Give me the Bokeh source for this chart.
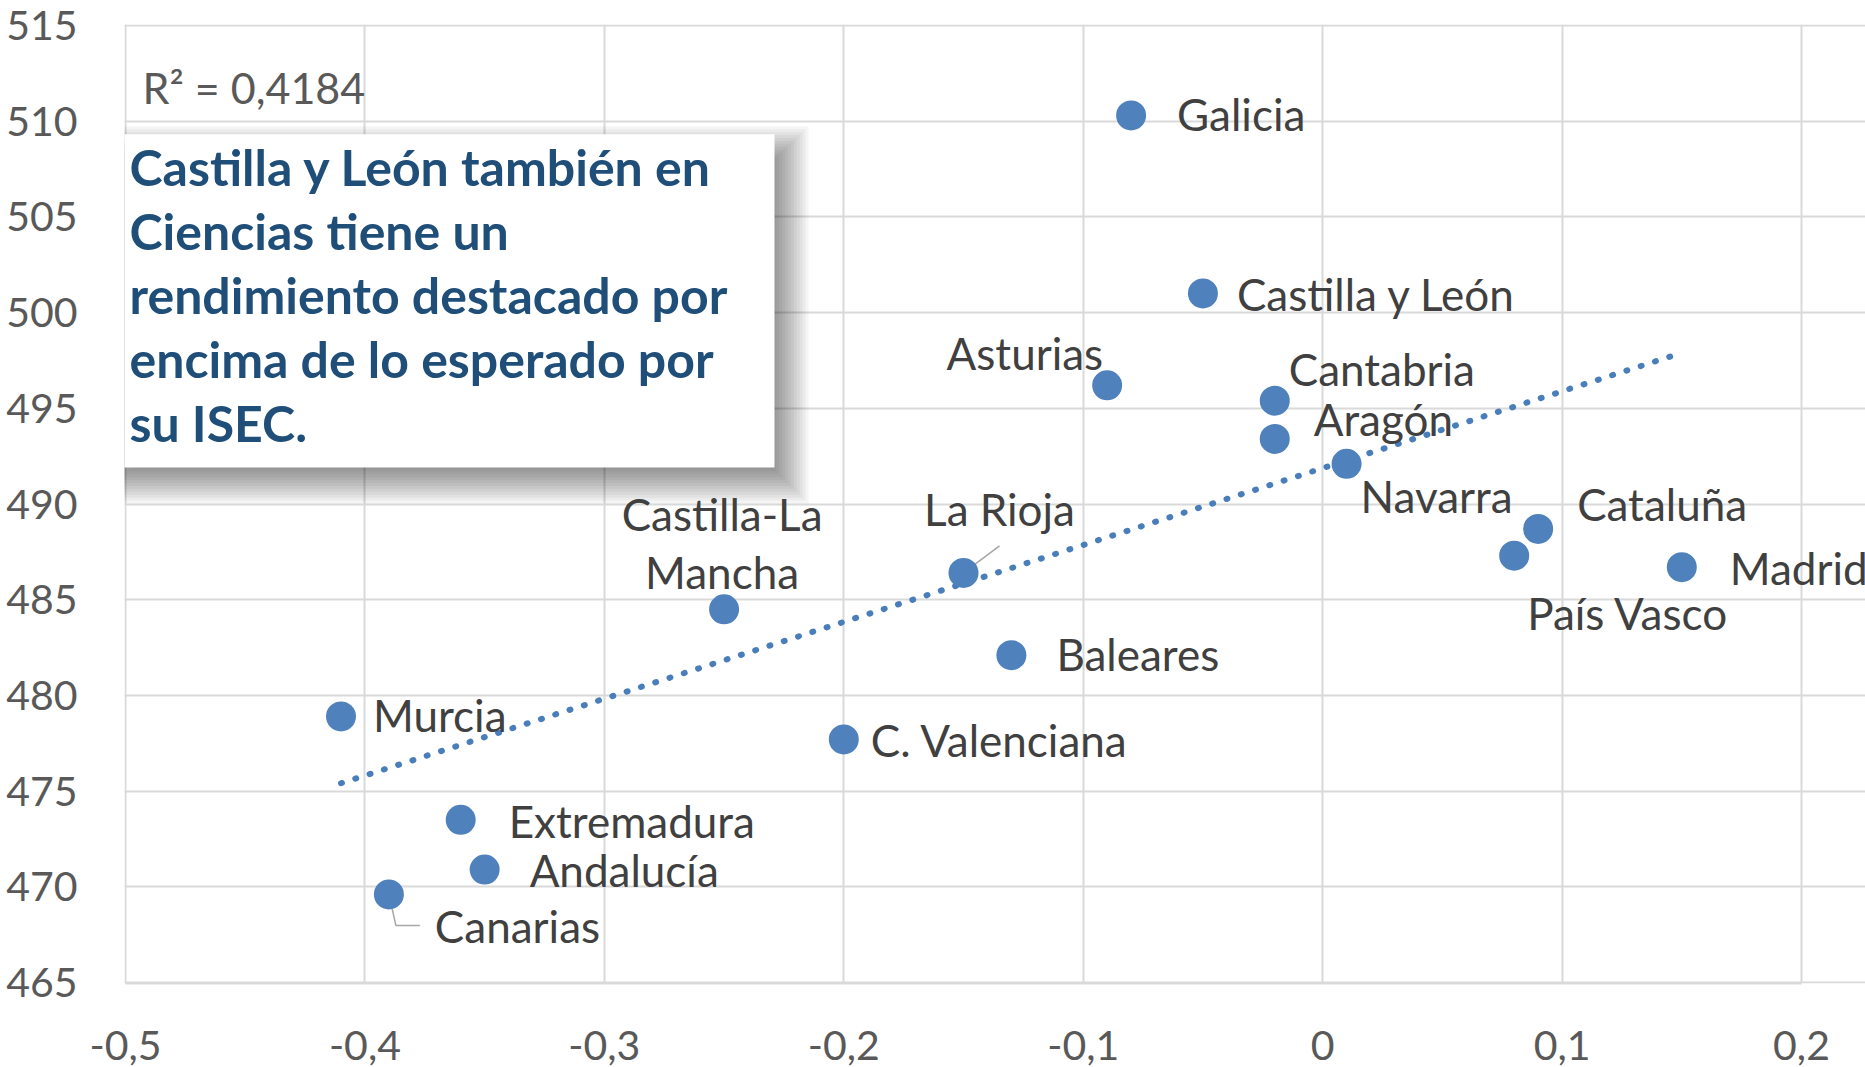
import numpy as np
from bokeh.plotting import figure
from bokeh.models import ColumnDataSource, Range1d, FixedTicker, Label
from bokeh.embed import file_html
from bokeh.resources import INLINE

# ---------------- data ----------------
regions = ["Galicia", "Castilla y León", "Asturias", "Cantabria", "Aragón", "Navarra",
           "Cataluña", "País Vasco", "Madrid", "La Rioja", "Castilla-La\nMancha",
           "Baleares", "Murcia", "C. Valenciana", "Extremadura", "Andalucía", "Canarias"]
isec = [-0.08, -0.05, -0.09, -0.02, -0.02, 0.01, 0.09, 0.08, 0.15, -0.15, -0.25,
        -0.13, -0.41, -0.20, -0.36, -0.35, -0.39]
ciencias = [510.3, 501.0, 496.2, 495.4, 493.4, 492.1, 488.7, 487.3, 486.7, 486.4, 484.5,
            482.1, 478.9, 477.7, 473.5, 470.9, 469.6]

x_ticks = [-0.5, -0.4, -0.3, -0.2, -0.1, 0.0, 0.1, 0.2]
x_tick_labels = ["-0,5", "-0,4", "-0,3", "-0,2", "-0,1", "0", "0,1", "0,2"]
y_ticks = [465, 470, 475, 480, 485, 490, 495, 500, 505, 510, 515]
y_tick_labels = [str(v) for v in y_ticks]

r2_text = "R² = 0,4184"
callout_lines = ["Castilla y León también en",
                 "Ciencias tiene un",
                 "rendimiento destacado por",
                 "encima de lo esperado por",
                 "su ISEC."]

# ---------------- label placement (screen px, dy positive = down) ----------------
label_dx = [46, 34, -4, 14, 39, 14, 39, 13, 48, 36, -2, 45, 32, 27, 48, 45, 46]
label_dy = [-1, 1, -32, -32, -20, 32, -25, 57, 1, -64, -66, -1, -1, 1, 1, 0, 32]
label_align = ["left", "left", "right", "left", "left", "left", "left", "left", "left",
               "center", "center", "left", "left", "left", "left", "left", "left"]
leaders = {"La Rioja": [(0, 0), (36, -27)],
           "Canarias": [(0, 0), (7, 31), (31, 31)]}

# ---------------- geometry ----------------
W, H = 1865, 1067
ML, MT = 124, 24
FW_DATA, FH = 1676, 959          # pixels spanned by the data ranges -0.5..0.2 and 465..515
FW = W - ML                      # frame reaches the right edge so labels may overflow 0.2
x0, x1 = -0.5, 0.2
y0, y1 = 465, 515
px = (x1 - x0) / FW_DATA
py = (y1 - y0) / FH

p = figure(frame_width=FW, frame_height=FH,
           x_range=Range1d(x0 - 1.0 * px, x0 + (FW - 1.0) * px),
           y_range=Range1d(y0 - 1.0 * py, y1 + 1.0 * py),
           output_backend="svg", toolbar_location=None,
           min_border_left=ML, min_border_right=0, min_border_top=MT,
           min_border_bottom=H - MT - FH)
p.outline_line_color = None
p.background_fill_color = "white"
p.border_fill_color = "white"

GRID = "#d9d9d9"
TICKC = "#595959"
FONT = "Lato"

p.xaxis.ticker = FixedTicker(ticks=x_ticks)
p.yaxis.ticker = FixedTicker(ticks=y_ticks)
p.xgrid.ticker = FixedTicker(ticks=x_ticks)
p.ygrid.ticker = FixedTicker(ticks=y_ticks)
p.xaxis.major_label_overrides = {t: l for t, l in zip(x_ticks, x_tick_labels)}
p.yaxis.major_label_overrides = {t: l for t, l in zip(y_ticks, y_tick_labels)}
for ax in (p.xaxis[0], p.yaxis[0]):
    ax.major_tick_line_color = None
    ax.minor_tick_line_color = None
    ax.major_tick_out = 0
    ax.major_tick_in = 0
    ax.major_label_text_font = FONT
    ax.major_label_text_font_size = "41px"
    ax.major_label_text_color = TICKC
p.xaxis.bounds = (x0, x1)
p.yaxis.axis_line_color = None
p.xaxis.axis_line_color = GRID
p.xaxis.axis_line_width = 2
p.yaxis.major_label_standoff = 47
p.xaxis.major_label_standoff = 47
p.ygrid.bounds = (x0, x1)
for g in (p.xgrid[0], p.ygrid[0]):
    g.grid_line_color = GRID
    g.grid_line_width = 2


def fx(v):
    return x0 + v * px


def fy(v):
    return y1 - v * py


# ---------------- callout box with shadow (frame px) ----------------
bl, bt, br, bb = -20, 109, 649, 443
ox, oy, blur, n = 12, 14, 22, 16
alpha = 1 - (1 - 0.47) ** (1.0 / n)
for i in range(n):
    e = blur - 2.0 * blur * i / (n - 1)
    p.quad(left=fx(bl + ox - e), right=fx(br + ox + e), top=fy(bt + oy - e), bottom=fy(bb + oy + e),
           fill_color="black", fill_alpha=alpha, line_color=None)
p.quad(left=fx(bl), right=fx(br), top=fy(bt), bottom=fy(bb), fill_color="white", line_color=None)

# ---------------- trend line ----------------
coef = np.polyfit(isec, ciencias, 1)
tx = [min(isec), max(isec)]
ty = list(np.polyval(coef, tx))
p.line(tx, ty, line_color="#4a7ebb", line_width=6, line_dash="1 14", line_cap="round")

# ---------------- leader lines ----------------
lx, ly = [], []
for name, pts in leaders.items():
    i = regions.index(name)
    lx.append([isec[i] + dx * px for dx, dy in pts])
    ly.append([ciencias[i] - dy * py for dx, dy in pts])
p.multi_line(lx, ly, line_color="#a6a6a6", line_width=1.5)

# ---------------- points ----------------
src = ColumnDataSource(dict(x=isec, y=ciencias))
p.scatter("x", "y", source=src, size=30, fill_color="#4f81bd", line_color=None)

for name, xv, yv, dx, dy, al in zip(regions, isec, ciencias, label_dx, label_dy, label_align):
    p.add_layout(Label(x=xv, y=yv, text=name, x_offset=dx, y_offset=-dy,
                       text_align=al, text_baseline="middle", text_font=FONT,
                       text_font_size="44px", text_color="#404040", text_line_height=1.12))

# ---------------- texts ----------------
p.add_layout(Label(x=fx(17), y=fy(62), text=r2_text, text_font=FONT, text_font_size="43px",
                   text_color=TICKC, text_baseline="middle"))
for k, line in enumerate(callout_lines):
    p.add_layout(Label(x=fx(4), y=fy(142 + 64 * k), text=line, text_font=FONT,
                       text_font_size="50px", text_font_style="bold", text_color="#1f4e79",
                       text_baseline="middle"))

open("out.html", "w").write(file_html(p, INLINE))
